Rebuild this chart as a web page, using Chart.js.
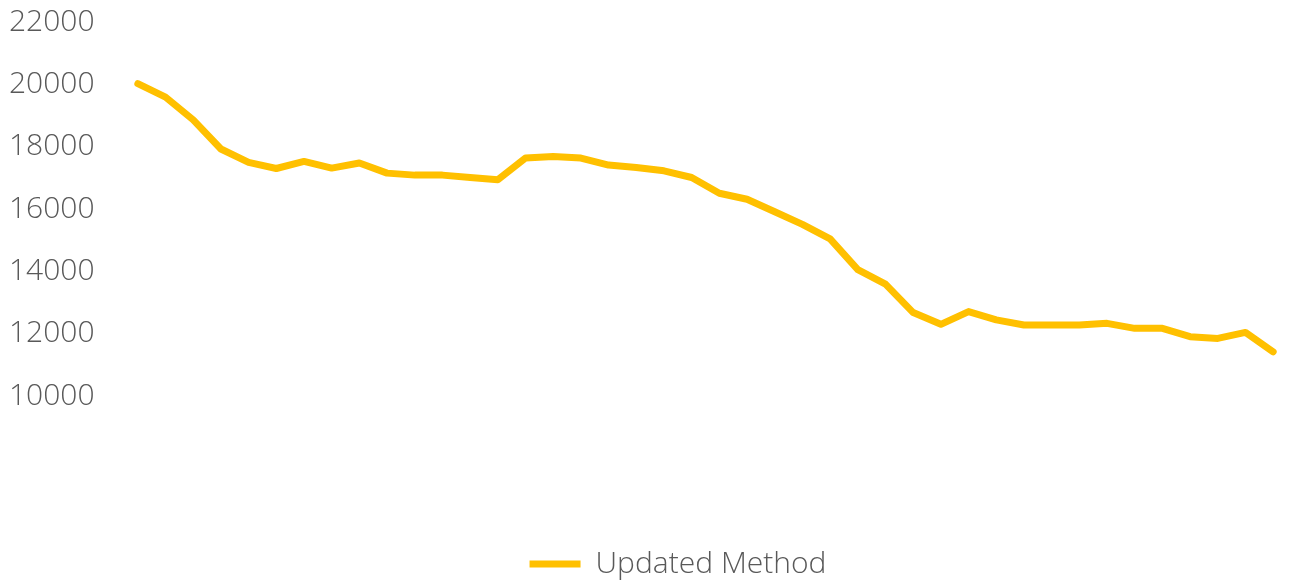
<!DOCTYPE html>
<html>
<head>
<meta charset="utf-8">
<script src="https://cdn.jsdelivr.net/npm/chart.js@4.4.1/dist/chart.umd.min.js"></script>
<style>
  html, body { margin: 0; padding: 0; background: #fff; }
  #wrap { width: 1290px; height: 581px; position: relative; }
</style>
</head>
<body>
<div id="wrap"><canvas id="chart"></canvas></div>
<script>
  const categories = ['1','2','3','4','5','6','7','8','9','10','11','12','13','14','15','16','17','18','19','20','21',
    '22','23','24','25','26','27','28','29','30','31','32','33','34','35','36','37','38','39','40','41','42'];
  const updatedMethod = [20020, 19590, 18860, 17925, 17494, 17300, 17526, 17312, 17474, 17151, 17087, 17087, 17010, 16935,
    17635, 17687, 17635, 17409, 17332, 17226, 17010, 16506, 16312, 15913, 15506, 15040, 14054, 13590,
    12677, 12300, 12709, 12441, 12280, 12280, 12280, 12332, 12170, 12170, 11902, 11848, 12041, 11419];
  const yMin = 10000;
  const yMax = 22000;
  const yStep = 2000;

  const labelColor = '#595959';
  const fontFamily = '"Open Sans", "Noto Sans", sans-serif';

  // nudge the legend right and down, like the original
  const legendShift = {
    id: 'legendShift',
    afterLayout(chart) {
      const lg = chart.legend;
      if (!lg) return;
      lg.left += 30;
      lg.right += 30;
      lg.top += 8;
      lg.bottom += 8;
    }
  };

  new Chart(document.getElementById('chart'), {
    type: 'line',
    data: {
      labels: categories,
      datasets: [{
        label: 'Updated Method',
        data: updatedMethod,
        borderColor: '#FFC000',
        backgroundColor: '#FFC000',
        borderWidth: 7,
        borderCapStyle: 'round',
        borderJoinStyle: 'round',
        pointRadius: 0,
        tension: 0,
        fill: false
      }]
    },
    options: {
      responsive: true,
      maintainAspectRatio: false,
      animation: false,
      layout: { padding: { top: 22, left: 9, right: 3, bottom: 0 } },
      plugins: {
        title: { display: false },
        tooltip: { enabled: false },
        legend: {
          position: 'bottom',
          labels: {
            usePointStyle: true,
            pointStyle: 'line',
            pointStyleWidth: 51,
            padding: 2,
            color: labelColor,
            font: { family: fontFamily, size: 30, weight: 300 }
          }
        }
      },
      scales: {
        x: {
          offset: true,
          grid: { display: false },
          border: { display: false },
          ticks: { display: false },
          afterFit: s => { s.height = 143; }
        },
        y: {
          min: yMin,
          max: yMax,
          grid: { display: false },
          border: { display: false },
          ticks: {
            stepSize: yStep,
            padding: 0,
            crossAlign: 'far',
            color: labelColor,
            font: { family: fontFamily, size: 30, weight: 300 },
            callback: v => String(v)
          },
          afterFit: s => { s.width = 115; }
        }
      }
    },
    plugins: [legendShift]
  });
</script>
</body>
</html>
